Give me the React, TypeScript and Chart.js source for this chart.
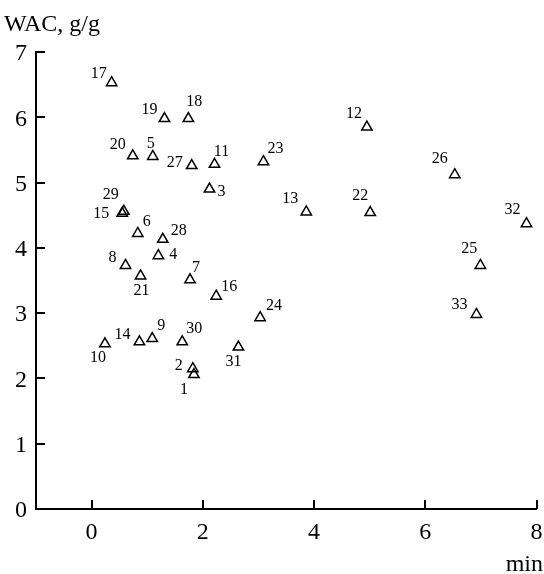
import React, { useEffect, useRef } from "react";
import { Chart, registerables } from "chart.js";

Chart.register(...registerables);

// ---- data ----
const sampleIds: string[] = [
  "1", "2", "3", "4", "5", "6", "7", "8", "9", "10", "11",
  "12", "13", "14", "15", "16", "17", "18", "19", "20", "21", "22",
  "23", "24", "25", "26", "27", "28", "29", "30", "31", "32", "33",
];
const timeMin: number[] = [
  1.84, 1.82, 2.12, 1.2, 1.1, 0.83, 1.77, 0.61, 1.09, 0.24, 2.21,
  4.95, 3.86, 0.86, 0.55, 2.24, 0.36, 1.74, 1.31, 0.74, 0.88, 5.01,
  3.09, 3.03, 6.99, 6.53, 1.8, 1.28, 0.58, 1.63, 2.64, 7.82, 6.92,
];
const wac: number[] = [
  2.06, 2.15, 4.9, 3.88, 5.4, 4.22, 3.51, 3.73, 2.61, 2.53, 5.28,
  5.85, 4.55, 2.56, 4.53, 3.26, 6.53, 5.98, 5.98, 5.41, 3.57, 4.54,
  5.32, 2.93, 3.73, 5.12, 5.26, 4.13, 4.56, 2.56, 2.48, 4.37, 2.98,
];
const xTicks: number[] = [0, 2, 4, 6, 8];
const yTicks: number[] = [0, 1, 2, 3, 4, 5, 6, 7];
const yTitle = "WAC, g/g";
const xTitle = "min";

// ---- presentation: label placement around each marker (px) ----
const labelOffsets: [number, number][] = [
  [-10, 15], [-14, -3], [12, 3], [15, -1], [-2, -13], [9, -12], [6, -12],
  [-13, -8], [9, -13], [-7, 14], [7, -12], [-13, -13], [-16, -13], [-17, -7],
  [-21, 1], [13, -9], [-13, -9], [6, -17], [-15, -9], [-15, -11], [1, 15],
  [-10, -17], [12, -13], [14, -12], [-11, -17], [-15, -16], [-17, -3],
  [16, -9], [-13, -17], [12, -13], [-5, 15], [-14, -14], [-17, -10],
];

const SERIF = "'Liberation Serif', 'Times New Roman', serif";

const decorPlugin = {
  id: "decor",
  afterDatasetsDraw(chart: any) {
    const { ctx, chartArea, scales } = chart;
    const xs = scales.x;
    const ys = scales.y;
    ctx.save();
    // inward tick marks
    ctx.strokeStyle = "#000";
    ctx.lineWidth = 2;
    ctx.beginPath();
    xTicks.forEach((v) => {
      const px = Math.round(xs.getPixelForValue(v));
      ctx.moveTo(px, chartArea.bottom);
      ctx.lineTo(px, chartArea.bottom - 9);
    });
    yTicks.forEach((v) => {
      const py = Math.round(ys.getPixelForValue(v));
      ctx.moveTo(chartArea.left, py);
      ctx.lineTo(chartArea.left + 9, py);
    });
    ctx.stroke();

    // point labels
    const meta = chart.getDatasetMeta(0);
    ctx.fillStyle = "#000";
    ctx.font = `16px ${SERIF}`;
    ctx.textAlign = "center";
    ctx.textBaseline = "middle";
    meta.data.forEach((el: any, i: number) => {
      const [dx, dy] = labelOffsets[i] || [0, -12];
      ctx.fillText(sampleIds[i], el.x + dx, el.y + dy);
    });

    // axis titles
    ctx.font = `24px ${SERIF}`;
    ctx.textBaseline = "alphabetic";
    ctx.textAlign = "left";
    ctx.fillText(yTitle, 4, 31);
    ctx.textAlign = "right";
    ctx.fillText(xTitle, chart.width - 1, 571);
    ctx.restore();
  },
};

export default function App() {
  const ref = useRef<HTMLCanvasElement | null>(null);

  useEffect(() => {
    if (!ref.current) return;
    const points = timeMin.map((x, i) => ({ x, y: wac[i] }));
    const chart = new Chart(ref.current, {
      type: "scatter",
      data: {
        datasets: [
          {
            data: points,
            pointStyle: "triangle",
            pointRadius: 6,
            pointBorderWidth: 1.5,
            pointBorderColor: "#000",
            pointBackgroundColor: "rgba(255,255,255,0)",
          },
        ],
      },
      options: {
        responsive: false,
        animation: false,
        events: [],
        layout: { padding: { top: 52, right: 5, left: 0, bottom: 0 } },
        plugins: {
          legend: { display: false },
          tooltip: { enabled: false },
          title: { display: false },
        },
        scales: {
          x: {
            type: "linear",
            min: -1,
            max: 8,
            afterBuildTicks: (scale: any) => {
              scale.ticks = xTicks.map((v) => ({ value: v }));
            },
            afterFit: (scale: any) => {
              scale.height = 65;
              scale.paddingLeft = 0;
              scale.paddingRight = 0;
            },
            grid: { display: false, drawTicks: false },
            border: { display: true, color: "#000", width: 2 },
            ticks: {
              color: "#000",
              padding: 9,
              maxRotation: 0,
              font: { family: SERIF, size: 24 },
              callback: (v: any) => String(v),
            },
          },
          y: {
            type: "linear",
            min: 0,
            max: 7,
            afterBuildTicks: (scale: any) => {
              scale.ticks = yTicks.map((v) => ({ value: v }));
            },
            afterFit: (scale: any) => {
              scale.width = 36;
              scale.paddingTop = 0;
              scale.paddingBottom = 0;
            },
            grid: { display: false, drawTicks: false },
            border: { display: true, color: "#000", width: 2 },
            ticks: {
              color: "#000",
              padding: 9,
              labelOffset: 2,
              font: { family: SERIF, size: 24 },
              callback: (v: any) => String(v),
            },
          },
        },
      },
      plugins: [decorPlugin],
    });
    return () => chart.destroy();
  }, []);

  return (
    <div
      style={{
        position: "fixed",
        left: 0,
        top: 0,
        width: 544,
        height: 574,
        background: "#fff",
      }}
    >
      <canvas ref={ref} width={544} height={574} style={{ display: "block" }} />
    </div>
  );
}
